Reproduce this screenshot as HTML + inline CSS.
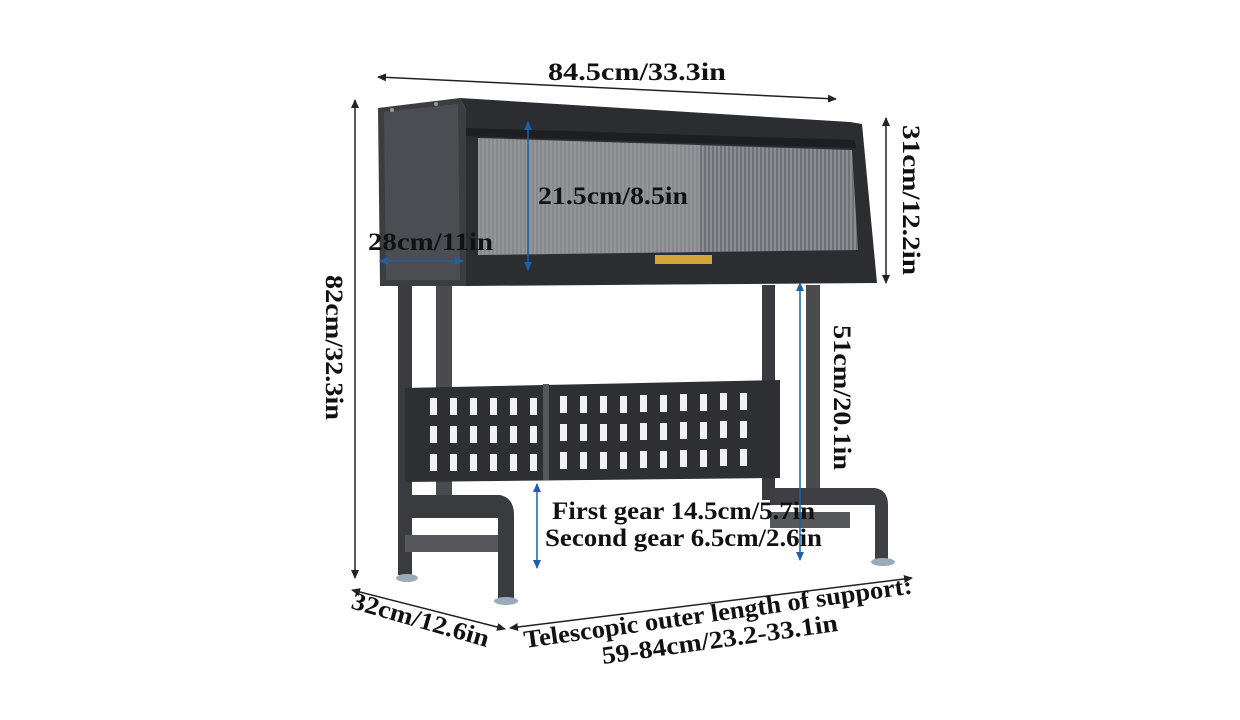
<!DOCTYPE html>
<html><head><meta charset="utf-8"><style>
html,body{margin:0;padding:0;background:#fff}
svg{display:block}
text{font-family:"Liberation Serif",serif;font-weight:bold;fill:#111}
</style></head><body>
<svg width="1240" height="720" viewBox="0 0 1240 720" xmlns="http://www.w3.org/2000/svg">
<defs>
<marker id="ak" markerWidth="10" markerHeight="10" refX="8" refY="5" orient="auto-start-reverse" markerUnits="userSpaceOnUse"><path d="M0,1 L9,5 L0,9 Z" fill="#222"/></marker>
<marker id="ab" markerWidth="10" markerHeight="10" refX="8" refY="5" orient="auto-start-reverse" markerUnits="userSpaceOnUse"><path d="M0,1 L9,5 L0,9 Z" fill="#1f5fa8"/></marker>
<pattern id="stripes" width="4" height="10" patternUnits="userSpaceOnUse"><rect width="4" height="10" fill="#8a8d91"/><rect width="2" height="10" fill="#6f7276"/></pattern>
</defs>

<rect x="762" y="285" width="13" height="215" fill="#3a3b3e"/>
<rect x="806" y="285" width="14" height="210" fill="#4a4b4f"/>
<path d="M770 488 L875 488 Q888 490 888 505 L888 560 L875 560 L875 505 L770 505 Z" fill="#3e3f43"/>
<path d="M770 512 L850 512 L850 528 L770 528 Z" fill="#55575b"/>
<ellipse cx="883" cy="562" rx="12" ry="4" fill="#9ab"/>

<rect x="398" y="285" width="14" height="290" fill="#3a3b3e"/>
<rect x="436" y="285" width="16" height="215" fill="#4a4b4f"/>
<path d="M405 495 L500 495 Q514 498 514 515 L514 598 L498 598 L498 518 L405 518 Z" fill="#3a3b3e"/>
<path d="M405 535 L498 535 L498 552 L405 552 Z" fill="#55575b"/>
<ellipse cx="407" cy="578" rx="11" ry="4" fill="#9ab"/>
<ellipse cx="506" cy="601" rx="12" ry="4" fill="#9ab"/>

<path d="M405 388 L780 380 L780 478 L405 482 Z" fill="#2e2f32"/>
<g fill="#f2f2f2">
<g id="row1">
<rect x="430" y="398" width="7" height="17"/><rect x="450" y="398" width="7" height="17"/><rect x="470" y="398" width="7" height="17"/><rect x="490" y="398" width="7" height="17"/><rect x="510" y="398" width="7" height="17"/><rect x="530" y="398" width="7" height="17"/><rect x="560" y="396" width="7" height="17"/><rect x="580" y="396" width="7" height="17"/><rect x="600" y="396" width="7" height="17"/><rect x="620" y="396" width="7" height="17"/><rect x="640" y="395" width="7" height="17"/><rect x="660" y="395" width="7" height="17"/><rect x="680" y="394" width="7" height="17"/><rect x="700" y="394" width="7" height="17"/><rect x="720" y="393" width="7" height="17"/><rect x="740" y="393" width="7" height="17"/>
</g>
<use href="#row1" y="28"/>
<use href="#row1" y="56"/>
</g>
<rect x="543" y="384" width="6" height="96" fill="#55575b"/>

<path d="M378 108 L460 98 L466 110 L466 286 L380 286 Z" fill="#3c3d41"/>
<path d="M384 112 L458 104 L460 280 L386 280 Z" fill="#4c4d52"/>
<path d="M460 98 L850 122 L862 124 L877 283 L466 286 L466 110 Z" fill="#2c2d31"/>
<path d="M478 138 L852 150 L858 250 L478 255 Z" fill="url(#stripes)"/>
<path d="M478 138 L700 145 L700 252 L478 255 Z" fill="#9a9da1" opacity="0.55"/>
<path d="M466 128 L855 140 L856 148 L466 136 Z" fill="#1d1e21"/>
<rect x="655" y="255" width="57" height="9" fill="#d4a63a"/>
<circle cx="392" cy="110" r="2" fill="#999"/><circle cx="436" cy="104" r="2" fill="#999"/>

<line x1="378" y1="77" x2="836" y2="99" stroke="#222" stroke-width="1.5" marker-start="url(#ak)" marker-end="url(#ak)"/>
<line x1="355" y1="100" x2="355" y2="578" stroke="#222" stroke-width="1.5" marker-start="url(#ak)" marker-end="url(#ak)"/>
<line x1="886" y1="118" x2="886" y2="283" stroke="#222" stroke-width="1.5" marker-start="url(#ak)" marker-end="url(#ak)"/>
<line x1="352" y1="590" x2="505" y2="629" stroke="#222" stroke-width="1.5" marker-start="url(#ak)" marker-end="url(#ak)"/>
<line x1="510" y1="628" x2="912" y2="578" stroke="#222" stroke-width="1.5" marker-start="url(#ak)" marker-end="url(#ak)"/>

<line x1="528" y1="122" x2="528" y2="270" stroke="#1f5fa8" stroke-width="1.5" marker-start="url(#ab)" marker-end="url(#ab)"/>
<line x1="380" y1="261" x2="463" y2="261" stroke="#1f5fa8" stroke-width="1.5" marker-start="url(#ab)" marker-end="url(#ab)"/>
<line x1="800" y1="283" x2="800" y2="560" stroke="#1f5fa8" stroke-width="1.5" marker-start="url(#ab)" marker-end="url(#ab)"/>
<line x1="537" y1="484" x2="537" y2="568" stroke="#1f5fa8" stroke-width="1.5" marker-start="url(#ab)" marker-end="url(#ab)"/>

<g font-size="25">
<text x="548" y="80" textLength="178" lengthAdjust="spacingAndGlyphs">84.5cm/33.3in</text>
<text x="538" y="204" textLength="150" lengthAdjust="spacingAndGlyphs">21.5cm/8.5in</text>
<text x="368" y="250" textLength="125" lengthAdjust="spacingAndGlyphs">28cm/11in</text>
<text transform="translate(326,275) rotate(90)" textLength="145" lengthAdjust="spacingAndGlyphs">82cm/32.3in</text>
<text transform="translate(903,125) rotate(90)" textLength="150" lengthAdjust="spacingAndGlyphs">31cm/12.2in</text>
<text transform="translate(834,325) rotate(90)" textLength="145" lengthAdjust="spacingAndGlyphs">51cm/20.1in</text>
<text x="552" y="519" textLength="263" lengthAdjust="spacingAndGlyphs">First gear 14.5cm/5.7in</text>
<text x="545" y="546" textLength="277" lengthAdjust="spacingAndGlyphs">Second gear 6.5cm/2.6in</text>
<text transform="translate(350,608) rotate(16)" textLength="142" lengthAdjust="spacingAndGlyphs">32cm/12.6in</text>
<text transform="translate(525,648) rotate(-8)" textLength="392" lengthAdjust="spacingAndGlyphs">Telescopic outer length of support:</text>
<text transform="translate(603,664) rotate(-8)" textLength="238" lengthAdjust="spacingAndGlyphs">59-84cm/23.2-33.1in</text>
</g>
</svg>
</body></html>
